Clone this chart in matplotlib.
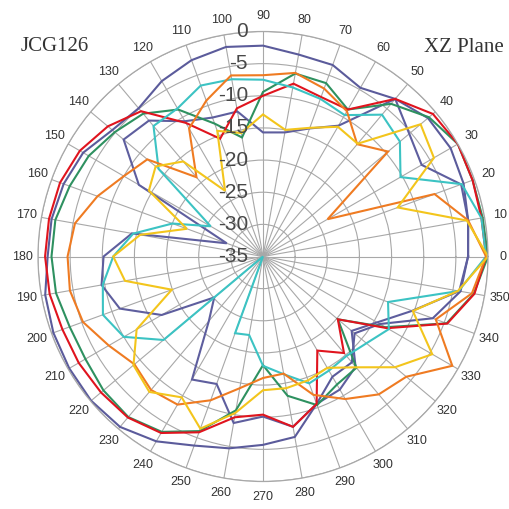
import numpy as np
import matplotlib
matplotlib.use("Agg")
import matplotlib.pyplot as plt
from matplotlib.transforms import offset_copy

# angles in degrees, one value every 10 deg
angles = np.arange(0, 360, 10)

red = [-0.3, -0.5, -0.3, 0.0, -0.5, -3.0, -8.6, -8.6, -7.7, -10.0, -11.6, -15.5,
       -11.0, -5.5, -3.5, -2.1, -1.4, -1.2, -1.1, -1.3, -1.8, -1.9, -2.1, -2.3,
       -3.3, -5.9, -9.6, -10.4, -8.1, -10.6, -18.1, -15.4, -19.8, -12.7, -4.5, -1.6]
green = [0.0, -0.3, -0.3, 0.0, -1.3, -4.0, -8.6, -6.3, -6.1, -9.4, -16.2, -13.0,
         -8.6, -6.0, -4.9, -3.7, -3.0, -2.2, -2.1, -2.3, -3.0, -3.1, -2.6, -2.4,
         -3.5, -6.1, -10.7, -18.1, -13.0, -10.4, -12.0, -12.4, -19.8, -13.0, -4.6, -1.7]
purple_in = [-3.1, -2.6, -2.2, -6.5, -5.3, -3.0, -11.5, -13.8, -15.4, -15.7, -12.1, -12.0,
             -10.7, -7.4, -6.7, -12.7, -29.0, -14.3, -10.2, -9.5, -11.3, -16.8, -25.1, -21.9,
             -12.9, -13.9, -8.7, -10.1, -8.1, -10.6, -11.1, -12.6, -17.0, -14.5, -10.3, -4.0]
purple_out = [-3.1, -2.6, -1.8, -1.3, -1.5, -3.0, -4.7, -3.3, -3.1, -2.2, -1.9, -2.5,
              -3.5, -4.9, -4.4, -2.7, -2.0, -1.6, -1.5, -0.6, -0.3, -0.2, -0.1, -0.4,
              -1.8, -3.7, -4.7, -5.7, -6.5, -10.6, -13.4, -13.5, -16.4, -14.0, -6.9, -3.8]
cyan = [-0.3, -0.5, -2.1, -10.3, -7.2, -6.2, -9.6, -8.9, -8.3, -7.5, -7.0, -6.7,
        -8.4, -8.5, -13.8, -25.6, -20.0, -14.5, -11.7, -9.7, -8.5, -10.0, -14.8, -35.0,
        -35.0, -22.3, -22.6, -18.0, -16.4, -14.0, -14.5, -14.8, -14.0, -12.4, -14.3, -4.1]
orange = [-0.3, -2.6, -6.6, -23.4, -9.6, -12.2, -8.9, -7.2, -6.0, -6.8, -6.4, -9.2,
          -12.0, -18.9, -11.5, -10.0, -7.6, -5.3, -4.6, -4.5, -5.2, -7.3, -8.9, -7.9,
          -8.4, -11.2, -14.2, -16.1, -16.5, -12.1, -9.4, -7.0, -5.9, -1.0, -6.4, -2.0]
yellow = [0.0, -2.8, -12.7, -4.3, -3.0, -12.1, -11.7, -13.7, -15.0, -12.9, -15.5, -14.2,
          -23.2, -15.7, -13.2, -14.5, -22.4, -15.6, -11.7, -13.2, -19.9, -12.3, -8.7, -7.5,
          -9.7, -6.5, -10.3, -14.2, -14.2, -14.5, -15.0, -12.5, -8.2, -4.6, -10.2, -4.2]

series = [
    (purple_out, '#5b5b9b'),
    (purple_in, '#5e5e9e'),
    (green, '#2e9160'),
    (red, '#e0141e'),
    (cyan, '#3cc3c3'),
    (orange, '#ef7b22'),
    (yellow, '#f3c51c'),
]

r_ticks = [-35, -30, -25, -20, -15, -10, -5, 0]

fig = plt.figure(figsize=(5.09, 5.09), dpi=100)
ax = fig.add_axes([38 / 509, 27.5 / 509, 450 / 509, 450 / 509], projection='polar')

theta = np.deg2rad(np.append(angles, angles[0]))
for vals, col in series:
    ax.plot(theta, vals + vals[:1], color=col, lw=1.5, solid_joinstyle='miter')

ax.set_theta_zero_location('E')
ax.set_theta_direction(1)
ax.set_ylim(-35, 0)
ax.set_yticks(r_ticks)
ax.set_yticklabels([])
ax.set_xticks(np.deg2rad(angles))
ax.set_xticklabels([str(a) for a in angles], fontsize=9, color='#333333',
                   family='Liberation Sans')
ax.tick_params(axis='x', pad=0.5)
ax.grid(True, color='#a8a8a8', lw=0.8)
ax.spines['polar'].set_color('#a8a8a8')
ax.spines['polar'].set_linewidth(0.9)

# radial labels along the 90 deg spoke
trans = offset_copy(ax.transData, fig=fig, x=-15, y=0, units='dots')
for rv in r_ticks:
    ax.text(np.pi / 2, rv, str(rv), transform=trans,
            ha='right', va='center', fontsize=15, color='#484848',
            family='Liberation Sans')

fig.text(55 / 509, 1 - 46.5 / 509, 'JCG126', ha='center', va='center',
         fontsize=15, color='#333333', family='Liberation Serif')
fig.text(464 / 509, 1 - 47.5 / 509, 'XZ Plane', ha='center', va='center',
         fontsize=15, color='#333333', family='Liberation Serif')

fig.savefig('out.png', dpi=100)
